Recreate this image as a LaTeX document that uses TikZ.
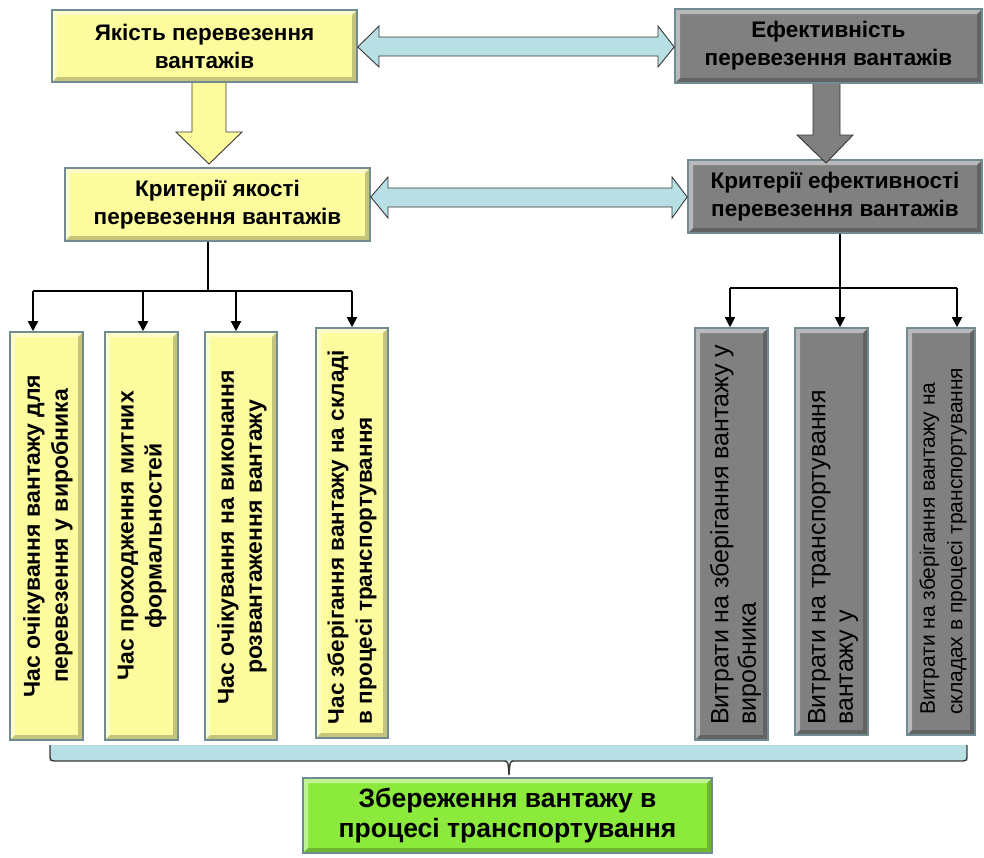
\documentclass[tikz,border=0pt]{standalone}
\usepackage{fontspec}
\setmainfont{Liberation Sans}
\usetikzlibrary{arrows.meta}
\definecolor{qyellow}{RGB}{252,252,158}
\definecolor{egray}{RGB}{128,128,128}
\definecolor{rimcol}{RGB}{112,140,146}
\definecolor{pale}{RGB}{184,224,228}
\definecolor{lime}{RGB}{140,234,60}
\definecolor{inkline}{RGB}{55,55,55}
\tikzset{
  bevel/.style={
    draw=rimcol, line width=1.6pt,
    path picture={
      \fill[white,opacity=0.45]
        (path picture bounding box.north west) -- (path picture bounding box.north east)
        -- ([xshift=-5pt,yshift=-5pt]path picture bounding box.north east)
        -- ([xshift=5pt,yshift=-5pt]path picture bounding box.north west)
        -- ([xshift=5pt,yshift=5pt]path picture bounding box.south west)
        -- (path picture bounding box.south west) -- cycle;
      \fill[black,opacity=0.22]
        (path picture bounding box.south east) -- (path picture bounding box.north east)
        -- ([xshift=-5pt,yshift=-5pt]path picture bounding box.north east)
        -- ([xshift=-5pt,yshift=5pt]path picture bounding box.south east)
        -- ([xshift=5pt,yshift=5pt]path picture bounding box.south west)
        -- (path picture bounding box.south west) -- cycle;
    }},
  qbox/.style={bevel, fill=qyellow, inner sep=0pt},
  ebox/.style={bevel, fill=egray, inner sep=0pt},
  headtxt/.style={font=\fontsize{22.5}{28}\selectfont\bfseries, align=center},
  vtxt/.style={rotate=90, inner sep=0pt, font=\fontsize{23}{28}\selectfont\bfseries},
  rtxt/.style={rotate=90, inner sep=0pt, font=\fontsize{25}{27.5}\selectfont, align=left, anchor=west},
  bus/.style={line width=1.8pt, black},
  arr/.style={bus, -{Triangle[length=10pt,width=10pt]}},
  blockarrow/.style={draw=inkline, line width=0.9pt},
}
\begin{document}
\begin{tikzpicture}[x=1pt,y=-1pt]
\useasboundingbox (0,0) rectangle (984,857);

% top level boxes
\node[qbox, minimum width=305pt, minimum height=72pt, headtxt] (q1) at (204.5,46) {Якість перевезення\\вантажів};
\node[ebox, minimum width=307pt, minimum height=74pt, headtxt] (e1) at (828.5,46) {Ефективність\\перевезення вантажів};

% criteria boxes
\node[qbox, minimum width=305pt, minimum height=73pt, headtxt] (q2) at (217.5,204.5) {Критерії якості\\перевезення вантажів};
\node[ebox, minimum width=294pt, minimum height=73pt, headtxt] (e2) at (835,196.5) {Критерії ефективності\\перевезення вантажів};

% block arrows between levels
\fill[qyellow] (192,83) -- (226,83) -- (226,132) -- (242,132) -- (209,164) -- (176,132) -- (192,132) -- cycle;
\draw[blockarrow] (192,83) -- (192,132) -- (176,132) -- (209,164) -- (242,132) -- (226,132) -- (226,83);
\fill[egray] (813,84) -- (840,84) -- (840,135) -- (853,135) -- (826,163) -- (797,135) -- (813,135) -- cycle;
\draw[blockarrow] (813,84) -- (813,135) -- (797,135) -- (826,163) -- (853,135) -- (840,135) -- (840,84);

% two-way arrows
\draw[blockarrow, fill=pale] (q1.east |- 0,47) -- (379,26) -- (379,37) -- (658,37) -- (658,26) -- (e1.west |- 0,47)
  -- (658,67) -- (658,56) -- (379,56) -- (379,67) -- cycle;
\draw[blockarrow, fill=pale] (q2.east |- 0,197) -- (388,177) -- (388,188) -- (672,188) -- (672,177) -- (e2.west |- 0,197)
  -- (672,218) -- (672,207) -- (388,207) -- (388,218) -- cycle;

% quality criteria
\node[qbox, minimum width=73pt, minimum height=408pt] (v1) at (46.5,536) {};
\node[qbox, minimum width=73pt, minimum height=408pt] (v2) at (141.5,536) {};
\node[qbox, minimum width=72pt, minimum height=408pt] (v3) at (241,536) {};
\node[qbox, minimum width=72pt, minimum height=410pt] (v4) at (352,533) {};
\node[vtxt, align=center] (v1t) at (48,536) {Час очікування вантажу для\\перевезення у виробника};
\node[vtxt, align=center] (v2t) at (142,536) {Час проходження митних\\формальностей};
\node[vtxt, align=center] (v3t) at (242,537) {Час очікування на виконання\\розвантаження вантажу};
\node[vtxt, align=left, font=\fontsize{22.5}{28}\selectfont\bfseries] (v4t) at (352,537) {Час зберігання вантажу на складі\\в процесі транспортування};

% efficiency criteria
\node[ebox, minimum width=73pt, minimum height=412pt] (r1) at (731.5,534) {};
\node[ebox, minimum width=73pt, minimum height=407pt] (r2) at (831.5,531.5) {};
\node[ebox, minimum width=68pt, minimum height=407pt] (r3) at (941,531.5) {};
\node[rtxt] (r1t) at (735.5,725) {Витрати на зберігання вантажу у\\виробника};
\node[rtxt] (r2t) at (833,725) {Витрати на транспортування\\вантажу у};
\node[rtxt, font=\fontsize{21}{27.5}\selectfont] (r3t) at (943,715) {Витрати на зберігання вантажу на\\складах в процесі транспортування};

% tree connectors, quality side
\coordinate (lb) at (208,291);
\coordinate (la1) at (33,291);
\coordinate (la2) at (143,291);
\coordinate (la3) at (236,291);
\coordinate (la4) at (352,291);
\draw[bus] (q2.south -| lb) -- (lb);
\draw[bus] (la1) -- (la4);
\draw[arr] (la1) -- (la1 |- v1.north);
\draw[arr] (la2) -- (la2 |- v2.north);
\draw[arr] (la3) -- (la3 |- v3.north);
\draw[arr] (la4) -- (la4 |- v4.north);

% tree connectors, efficiency side
\coordinate (rb) at (840,288);
\coordinate (ra1) at (730,288);
\coordinate (ra3) at (957,288);
\draw[bus] (e2.south -| rb) -- (rb);
\draw[bus] (ra1) -- (ra3);
\draw[arr] (ra1) -- (ra1 |- r1.north);
\draw[arr] (rb) -- (rb |- r2.north);
\draw[arr] (ra3) -- (ra3 |- r3.north);

% result
\node[bevel, fill=lime, inner sep=0pt, minimum width=409pt, minimum height=75pt,
      font=\fontsize{26.5}{30}\selectfont\bfseries, align=center] (g) at (507.5,815.5)
  {Збереження вантажу в\\процесі транспортування};

% brace gathering all criteria
\fill[pale] (50,745) rectangle (967,761);
\draw[inkline, line width=1.4pt] (50,745) -- (50,757) .. controls (50,760) .. (54,761) -- (504,761)
  .. controls (508,761) .. (509,775) .. controls (510,761) .. (514,761) -- (963,761)
  .. controls (967,760) .. (967,757) -- (967,745);
\end{tikzpicture}
\end{document}
